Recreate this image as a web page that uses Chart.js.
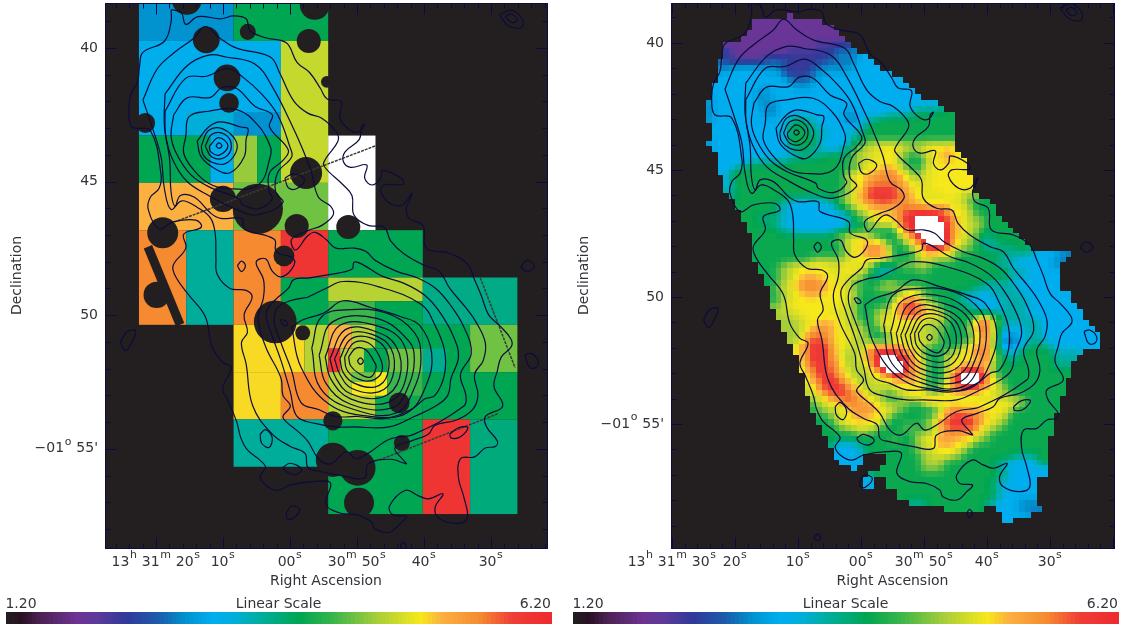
<!DOCTYPE html>
<html>
<head>
<title>Right Ascension / Declination maps</title>
<script src="https://cdn.jsdelivr.net/npm/chart.js"></script>
<style>
  html, body { margin: 0; background: #fff; overflow: hidden; }
  canvas { position: absolute; top: 0; }
  #leftMap { left: 0; }
  #rightMap { left: 565px; }
</style>
</head>
<body>
<canvas id="leftMap" width="562" height="624"></canvas>
<canvas id="rightMap" width="560" height="624"></canvas>
<script>
// contours: [RA seconds after 13h30m, Dec arcmin below -01d]
const contourOuter = [[77.4,38.44],[75.9,38.54],[75.2,38.99],[73.4,38.7],[69.9,38.78],[68.1,38.67],[66.2,38.78],[65.6,39.23],[63.3,39.49],[60.2,39.68],[58.6,40.41],[56.7,40.8],[55.1,41.39],[54.1,41.78],[52,41.88],[52.2,42.5],[50.6,42.96],[49.3,43],[48.5,42.73],[49,42.83],[49.3,43.29],[51.4,43.75],[51.7,44.11],[50.6,44.34],[48.2,44.25],[48.5,44.74],[47.4,45],[46.1,44.74],[45.8,44.45],[43,44.76],[42.8,44.97],[45.6,45],[46.1,45.26],[44.5,45.72],[42.7,45.72],[41.5,45.3],[41.9,45.65],[42.3,45.85],[41.9,46.25],[39.8,46.51],[39.3,47.36],[35.8,47.56],[33.2,47.95],[32.1,48.54],[31.1,49.13],[30,49.86],[28.4,50.25],[26.7,50.75],[26.6,51.04],[28.1,51.43],[28.7,51.95],[29.2,52.54],[27.9,53.27],[30.5,53.66],[30.3,54.05],[28.7,54.58],[29,54.78],[30.5,54.84],[32.1,55.17],[34.2,55.24],[34.5,55.96],[33.7,56.68],[33.2,57.47],[34.8,57.66],[37.4,57.47],[38,57.07],[36.8,56.55],[39,56.74],[40.6,56.61],[42.4,56.42],[44.8,57.01],[44.3,57.34],[42.3,57.4],[43.2,57.66],[44.8,57.99],[47,57.86],[47.5,57.6],[49.6,57.34],[52.2,57.27],[54.3,56.94],[53.6,56.15],[55.9,56.09],[59.6,56.22],[61.5,56.42],[63.3,56.22],[64.1,55.89],[63.3,55.56],[64.1,55.3],[66,54.91],[67,54.45],[67.6,53.86],[68.9,53.07],[69.7,52.61],[68.4,51.82],[69.7,51.63],[71.3,51.04],[72.3,49.92],[74.7,49.13],[76.6,48.48],[77.1,48.02],[75.2,47.36],[75.5,46.84],[72.9,46.58],[73.7,46.31],[77.1,46.38],[79.2,46.64],[80.8,45.92],[80.5,45.46],[79.2,45.13],[78.9,44.6],[80.5,42.96],[83.2,42.83],[83.7,42.24],[83.4,41.59],[82.4,41.13],[82.1,40.54],[81.6,40.04],[78.4,39.62],[77.4,38.9]];
const contourSecond = [[81.6,41.82],[80.3,42.77],[78.9,43.95],[78.4,45.13],[77.4,45.92],[75.8,45.59],[73.4,45.85],[71.5,46.24],[70.8,46.84],[70.7,47.75],[70.5,48.35],[68.6,48.87],[66.2,48.94],[65.3,49.2],[66.5,49.86],[66,50.51],[66.9,50.9],[66.2,51.69],[65.2,53.27],[62.3,54.32],[59.6,54.78],[57.4,55.04],[57,55.56],[55.4,55.7],[51.7,55.89],[48.5,55.96],[48,55.43],[44.6,55.26],[42.3,55.43],[42.7,55.3],[44,54.84],[41.6,54.58],[39,54.32],[38,53.99],[34.8,53.79],[32.4,53.4],[31.6,52.87],[32.1,52.09],[30.8,51.56],[30.5,50.9],[31.9,50.12],[33.4,49.59],[35.8,48.87],[37.4,48.22],[39.5,48.02],[42.7,47.56],[44.6,47.1],[45.6,46.58],[48,46.51],[50.1,46.12],[50.4,45.39],[51.7,45],[54.6,44.28],[54.3,44.01],[52.5,43.36],[52.7,43.03],[54.9,42.5],[57,42.31],[59.1,41.85],[61.2,40.8],[62.6,40.21],[67.6,39.88],[70.2,39.49],[72.3,39.07],[73.9,39.49],[77.1,40.08],[79.5,40.67]];
const contourThird = [[78.3,41.59],[75,40.54],[71.8,40.14],[69.2,40.21],[64.9,40.47],[62.3,41.32],[59.1,42.9],[57.5,43.82],[56.5,44.47],[55.4,45.46],[53.6,45.79],[53.2,46.12],[54.9,46.51],[57,46.71],[59.4,47.03],[58.8,47.43],[57,46.9],[55.9,46.77],[54.3,47.03],[52.8,47.36],[50.1,47.36],[48.3,47.49],[46.9,47.82],[43.8,48.22],[40.6,48.48],[37.9,48.87],[35.8,49.46],[33.7,50.31],[32.6,51.3],[34.2,52.09],[33.4,52.87],[33.7,53.27],[41.1,54.32],[44.8,54.51],[48,55.04],[49.9,55.24],[51.2,54.97],[53.6,55.43],[55.4,55.24],[57,54.58],[58.6,54.19],[60.2,53.86],[60.7,53.66],[59.6,53.27],[60.7,52.87],[61,52.22],[63.3,51.04],[64.4,49.99],[63.6,49.2],[63.6,48.54],[64.7,47.89],[63.3,47.76],[62.3,48.22],[61,48.44],[59.4,48.15],[59.1,47.76],[61.7,47.49],[62,47.03],[66.5,46.64],[66.8,46.25],[70,46.25],[71.5,46.05],[73.9,45.46],[76,45.39],[76.8,45.79],[77.4,45.26],[77.6,44.08],[78.4,42.77]];
const contourFourth = [[57,48.48],[59.1,48.54],[59.9,48.87],[62,49.33],[63.2,49.79],[62.5,50.51],[61,51.56],[59.6,52.74],[58.6,53.66],[55.9,53.92],[52.8,54.05],[50.1,54.05],[44.8,54.05],[41.1,53.66],[37.9,53.27],[36.1,52.87],[35.6,52.22],[34.5,51.43],[35.3,50.64],[37.4,49.72],[39.5,49.13],[42.7,48.67],[45.9,48.41],[49,47.95],[50.1,47.89],[50.4,48.15],[53.8,48.35]];
const contourFifth = [[57,49.2],[54.3,48.87],[51.7,48.61],[46.4,48.81],[40.1,49.46],[38,50.25],[36.6,51.17],[36.6,52.09],[38,52.87],[39.5,53],[41.6,53.4],[45.4,53.73],[49.6,53.66],[52.8,53.66],[55.4,53.4],[58,53.14],[59.4,51.95],[61,50.9],[62,50.12],[61.5,49.59],[59.6,49.33]];
// rings round the northern peak
const northRings = [
  [[78.3,42.24],[75.2,41],[72.1,40.93],[68.9,40.64],[66.5,41],[63.9,41.59],[61.5,42.37],[59.7,43.55],[59.4,43.95],[61.5,44.54],[61.8,45.26],[60.7,45.65],[64.4,46.11],[67.6,45.92],[71.8,45.39],[75,44.87],[77.1,44.08],[78.2,43.16]],
  [[77,42.37],[75,41.74],[71.5,41.72],[69.8,41.35],[67.6,41.39],[64.9,42.05],[62.3,42.37],[62.7,42.83],[59.9,43.69],[60.7,44.08],[62.7,44.54],[62.8,45.2],[62.3,45.52],[64.4,45.89],[66.8,45.72],[67.2,45.52],[71.8,45.06],[74.5,44.6],[76.6,43.82],[77.4,43.16]],
  [[75.2,43.16],[74.7,42.44],[71.8,42.24],[67.6,42.18],[64.4,42.77],[62.6,43.55],[62.6,43.95],[64.4,45],[69.2,45.13],[71.8,44.93],[73.9,44.47],[75.5,43.82]],
  [[73.5,43.36],[71.8,42.83],[70,42.64],[67,42.83],[65.9,42.9],[66.2,43.29],[66.5,43.95],[68.6,44.54],[70.7,44.41],[72.9,43.95]],
  [[72.9,43.55],[71.8,42.96],[69.7,42.9],[67.7,43.36],[67.8,43.82],[69.4,44.21],[71.3,44.15],[72.6,43.88]],
  [[72.3,43.55],[71.3,43.1],[69.4,43.1],[68.4,43.53],[69.4,43.97],[71.3,43.95]],
  [[71.7,43.55],[70.3,43.23],[68.9,43.53],[70.2,43.88],[71.5,43.75]],
  [[70.7,43.53],[70.3,43.42],[69.8,43.53],[70.3,43.63]]
];
// rings round the southern peak
const southRings = [
  [[49.6,51.59],[49.16,51.47],[48.7,51.59],[49.16,51.71]],
  [[50.9,51.43],[49.8,51.1],[48.3,51.17],[47.2,51.56],[46.8,51.82],[47.7,52.19],[49.3,52.06],[50.6,51.76]],
  [[51.5,51.43],[50.1,50.9],[48,50.9],[46.4,51.36],[45.9,51.95],[47.5,52.32],[49.8,52.22],[51.2,51.89]],
  [[52.2,51.5],[50.6,50.77],[47.7,50.71],[45.3,51.17],[45.1,52.09],[46.9,52.55],[50.1,52.41],[51.7,52.02]],
  [[53,51.5],[50.9,50.58],[47.5,50.58],[44.6,51.1],[44.3,52.15],[46.4,52.74],[50.4,52.61],[52.2,52.09]],
  [[53.7,51.5],[51.4,50.41],[47.2,50.45],[43.8,51.04],[43.3,52.22],[45.9,52.94],[50.6,52.81],[52.8,52.22]],
  [[54.4,51.43],[52.2,50.25],[46.9,50.25],[42.8,50.9],[42.4,52.28],[45.1,53.14],[50.6,53],[53.5,52.28]],
  [[55.3,51.36],[53.3,50.12],[46.7,49.99],[41.9,50.84],[41.1,51.56],[41.9,52.48],[44.3,53.33],[50.6,53.2],[54.3,52.41]],
  [[56.4,51.1],[54.9,49.92],[50.6,49.66],[45.3,49.79],[41.1,50.51],[40.1,51.43],[40.9,52.48],[43.8,53.53],[50.1,53.4],[55.1,52.61]],
  [[59.4,50.32],[57.8,50.05],[54.6,49.79],[51.7,49.33],[47.5,49.59],[43.2,49.92],[40.3,50.25],[38.5,51.3],[39.3,52.48],[42.2,53.53],[47.5,53.66],[53.8,53.2],[58,51.82]]
];
// small closed islands
const islands = [
  [[60.4,44.74],[59.1,44.58],[57.5,44.8],[58.6,45.13],[59.9,45.1]],
  [[67.5,48.02],[66.9,47.85],[66.3,48.02],[66.9,48.24]],
  [[61.1,50.05],[60.6,50.04],[60,50.22],[60.6,50.25]],
  [[64.1,54.32],[63.3,54.15],[62.3,54.45],[62.8,54.82],[63.9,54.65]],
  [[60.7,55.56],[59.6,55.41],[57.9,55.63],[58.8,55.83],[60.2,55.73]],
  [[35.8,54.32],[34.5,54.08],[33.1,54.08],[34.2,54.42],[35.6,54.47]],
  [[43.2,58.52],[42.8,58.36],[42.3,58.52],[42.8,58.69]],
  [[67.5,59.46],[66.9,59.33],[66.4,59.46],[66.9,59.6]],
  [[60.2,57.27],[59.4,57.01],[58.2,57.14],[59.2,57.47],[60.1,57.47]],
  [[25.2,48.06],[24.3,47.82],[23.2,48.02],[24.2,48.25]],
  [[24.6,51.36],[23.7,51.3],[22.6,51.56],[22.9,51.82],[23.9,51.82]],
  [[28.4,38.63],[26.6,38.46],[24.9,38.83],[25.2,39.12],[27.1,39.03]],
  [[27.5,38.7],[26.6,38.6],[25.7,38.83],[26.6,38.92]],
  [[85,50.9],[84,50.5],[82.7,50.45],[83.2,50.85],[84.2,51.2]]
];

// left map: fitted tiles, ra from, ra to, dec from, dec to, value
const tiles = [
  [82.54,68.42,38.2,39.74,2.85],[68.42,54.3,38.2,39.74,3.9],[82.54,61.36,39.74,43.28,3.13],[61.36,54.3,39.74,45.05,4.75],
  [75.48,68.42,42.4,43.28,3.3],[68.42,61.36,42.4,43.28,2.85],[82.54,71.9,43.28,45.05,3.9],[71.9,68.42,43.28,45.05,3.13],
  [68.42,64.9,43.28,45.05,4.55],[64.9,61.36,43.28,45.05,3.9],[82.54,68.42,45.05,46.82,5.2],[68.42,54.3,45.05,46.82,4.4],
  [54.3,47.24,43.28,46.82,6.5],[82.54,75.48,46.82,50.36,5.55],[75.48,68.42,46.82,50.36,3.55],[68.42,61.36,46.82,50.36,5.55],
  [61.36,54.3,46.82,48.59,6],[54.3,40.18,46.82,48.59,3.9],[61.36,54.3,48.59,50.36,3.9],[54.3,40.18,48.59,49.48,4.68],
  [54.3,47.24,49.48,50.36,4.2],[47.24,40.18,49.48,50.36,3.9],[40.18,26.06,48.59,50.36,3.65],
  [68.42,57.83,50.36,52.13,5.05],[57.83,54.3,50.36,52.13,4.68],[54.3,50.77,50.36,51.25,5.2],[50.77,47.24,50.36,51.25,4.68],
  [47.24,40.18,50.36,51.25,3.9],[40.18,33.12,50.36,52.13,3.9],[33.12,26.06,50.36,52.13,4.4],
  [54.3,52.5,51.25,52.13,6],[52.5,48.96,51.25,52.13,4.68],[48.96,45.47,51.25,52.13,3.9],[45.47,40.18,51.25,52.13,4.4],
  [40.18,36.65,51.25,52.13,3.6],
  [68.42,61.36,52.13,53.9,5.05],[61.36,54.3,52.13,53.9,5.55],[54.3,50.77,52.13,53.02,4.68],[50.77,47.24,52.13,52.5,4.4],
  [50.77,47.24,52.5,53.02,5],[47.24,45.47,52.13,53.02,5],[45.47,40.18,52.13,53.02,4.2],[54.3,47.24,53.02,53.9,4.68],
  [47.24,40.18,53.02,53.9,3.95],[40.18,26.06,52.13,53.9,3.9],
  [68.42,54.3,53.9,55.67,3.55],[54.3,40.18,53.9,57.44,3.9],[40.18,33.12,53.9,57.44,6],[33.12,26.06,53.9,57.44,3.7]
];
// left map: masked stars
const maskRa = [72.5,69.4,69.1,66.3,57.2,56.3,75.4,81.6,57.6,54.5,70,64.8,59,51.3,79,60.9,79.9,62.2,58.1,43.7,53.6,43.3,53.6,49.9,49.7];
const maskDec = [39.7,41.12,42.06,39.4,39.74,38.39,38.2,42.81,44.68,41.27,45.65,46.02,46.66,46.7,46.92,47.78,49.24,50.25,50.66,53.28,53.95,54.78,55.41,55.71,57.02];
const maskRadius = [0.5,0.5,0.37,0.3,0.45,0.56,0.56,0.37,0.6,0.22,0.49,0.94,0.45,0.45,0.58,0.39,0.49,0.8,0.28,0.39,0.36,0.3,0.64,0.67,0.56];
const blankBand = [[81.2,47.44],[76.4,50.36]];
const trails = [
  [[47.3,43.67],[68.5,45.69],[77.2,46.51]],
  [[31.6,48.6],[26.4,51.97]],
  [[29,53.69],[46.6,55.41]]
];
// contours were read on the right map, the left one sits slightly off it
const leftShiftRa = 0.35;
const leftShiftDec = 0.13;

// right map: cells, one string per row, letter + column where the run ends
const heatCodes = ['p','i','d','b','t','g','l','y','Y','o','O','r','w'];
const heatValues = [1.9,2.25,2.75,3.1,3.5,3.95,4.6,4.85,5.0,5.2,5.55,5.95,6.8];
const heatStartRa = 84.6, heatStartDec = 38.82, heatStepRa = 0.9206, heatStepDec = 0.2283;
const heatRows = [
".14p15",".8p20",".8p22",".7p23",".6p24",".3p19i25",".3i5p14i22d26",".3d4p10i22d26b28",".2d3i10d14i20d26b29",".2d4b10d13i18d25b30",
".2b13d14i18d20b32",".2b14d19b34",".1b15d18b35",".1b9d11b36",".1b9d10b37","d1b9d12b40","d1b10d12b35t41","d1b10d12b24d26b31t36g43","d1b14t15g17t19b24d26b27t29g43",".1b13t15g18t20b25d26t28g43",
".1b14g18t21b24t27g43",".1b14g19t21b25t26g43","d1b14g19t20b24t25g27l29y34l38y43",".1b14t15g18t20b23t25g26l28y30Y34l36y38Y41o42Y43",".2b16t20g25l27y30Y33l35g37y39Y41O42Y44",".2b8t14g25l27y29Y33l34g38y39Y41o42Y45",".2b5t6g26l27y29Y32o33l35g37y39Y45",".2b4g24l25y26Y28o30O33Y35l36g37y39Y45",".3b4g24y26Y27o29O33o34Y35l36y39Y46",".3b4t5g24l25y26Y27o28O34o35Y36y38Y46",
".3t5g24l25y26Y27O28r33O34o35Y37y39Y46",".4t5g23l25y26o27O28r33O35o36Y39y41Y44l47",".5g13t15b20t22g24y26o27O29r32O35Y37y39Y41y45g49",".5g12t14b22g24l26y27Y29o33O38o42Y44y46g50",".6g12t14b24t25g26y28Y29o33O34r41O42Y44y46g50",".6g9t11g12t14b24t25g28y30Y33O34r36w40r42O43Y45l48g51",".7g11t13b24t26g27l29y32Y33O34r36w40r42O43Y45y46l48g52",".7g13t15b22t24g33Y34O35r36w41r42O43Y45l47g53",".8g22l24y26Y28l29g33y34o36r38w41r42O43Y45l47g48t49g54",".8g24y25Y27o30y31g34y35o36O37r38w41r42O43Y44l46g47t50g55",
".8g23l25Y27o28O31Y32g35l36Y37O38r41O42Y44l46g48t53g56",".8g24y25Y27o28O30Y32g36y37Y40y43g52t57b61d63",".8g18l24y26Y31y32g36l37y39l43g50t54b60d62",".9g13l15Y21y24Y26y29g30t32g33l36y37l39g50t53b60d61",".9g12l14y16Y21y23Y25y28g29t33g37l38g52t56b61",".10g13l15Y17o19Y22y24Y25y27g29t31g52t55b61",".10g12l14Y16O20o21Y23y25g30l33g48t53b61",".11g12l14Y16O20o21Y24y25l27g29l34y36l38g46t54b61",".11g12l14y16Y17o20Y24y26g33l35Y36y37g44t47b49t55b63",".11g13y15Y20y21Y24l26g32y33Y34O36o37Y38l39g43t45b50t56b63",
".11l14Y24y26g31l32Y33O34r36O37Y39y40g45t47b51t56b64",".12l13y16Y21y24l26g29y33O34r37O38Y40y41g46t49b50t55b65",".12l15y17Y23y26g29l31Y34o36Y38y41l42g46Y47o49y50g51t57b65",".13l16y18Y20o22Y24l27g29y32Y35y38l41g46Y47O49y50g51t58b66",".13l16y17Y18o19O21o22Y24y26l28g30y31Y33y38l41g45y46O49y50g51t52b55t58b67",".14l16y17o18O21o22Y24y26l28g31l32Y34y37l40g46y47O49Y50t51d53b55t58b68",".14l16y17O18r20O21o22Y24y26l29g32Y33y39l41g45y47o49y50t51d54b55t59b68",".15y16O18r21O22Y24y26l28o29O33Y35y37l39g44Y47O49y50t51d54t56g58t60b68",".15Y17O18r21O22Y24l26y27O29r34O35Y37g41l43Y46O49y50g51t54g60t65",".16Y17O18r21O22Y24l26y28O29r30w33r35O36Y38g41y44Y47O49Y50g52t54g60t64",
".16Y17O18r21O23Y24l26y28O29r30w34r35O36Y38g41y44Y47o49l50g60t63",".16y17Y18O19r21O23Y25l27y29O30r31w34r35O36Y38g41y43O44r48Y49l50g63",".17Y18O19r22O23Y25l28y31O32r34O36Y38g41Y42O43r44w47r48O49y50g63",".17y18Y19O20r23O24Y26l28y32Y34o36Y38g41Y42O43r44w47r48O49Y50y51g62",".17y18Y19O20r24O25Y27l29y33Y37y38g40y42O44r47O48Y50l52g62",".17l18y19Y20O21r24O26Y28l31g32y35Y38l39g40y41Y43o46Y50l52g62",".18l19y20Y22O24r25O27Y29l31g34y36Y38O40Y42y53l55g61",".18g19l20y22Y24O26o28O29Y31y33l35g37l38y40Y46o47Y53y54l55g61",".18g19l21y24Y25O29Y30y32l34g40y41Y42O44o47Y51y53g61",".19g21l23y25Y26o28Y31y32g39l40Y41O42r46O48Y50y52g60",
".19g22y23Y25o27Y30y31g37l38y39Y40O41r46O47o48Y50l52g60",".20g23l25y28Y29y30g34l36g39y40Y41O42r46O47Y49l51g60",".20g26l28g36l38y40Y41O43o46Y47l49g60",".21g32l33g36y38Y40O41o45Y47l49g59",".21g22b26t28g36l38y39Y40o43Y44y46g59",".22b26t27g36l38y40Y43y44l45g59",".22b27.31g37l39y42l44g53t57g59",".23b27.31g37l41g50t52b57g59",".25b26.30g37l41g50t52b59",".28g51t53b59",
".27b29.31g50t52b57",".27b29.31g49t51b57",".33g50t51b57",".33g50t51b57",".35t38g48t50b54d57",".41g48.50b54d58",".51b56",".51b53"
];

// colour table of the scale bar
const scaleMin = 1.2, scaleMax = 6.2;
const cmapStops = [0,.03,.06,.13,.17,.22,.28,.33,.38,.42,.47,.54,.6,.68,.76,.8,.87,.93,1];
const cmapColors = ['#231f20','#2a0f22','#4a2050','#6d3394','#5b3a9b','#30399a','#1c5cab','#0093d0','#00aeef','#00afd8','#00ad9a','#00a651','#39b54a','#a6ce39','#f7e81b','#fbb040','#f58a30','#ef3e36','#ee2a2f'];

// axes
const leftRaTicks = [80,70,60,50,40,30];
const leftRaLabels = [[['13','h'],[' 31','m'],[' 20','s']],[['10','s']],[['00','s']],[['30','m'],[' 50','s']],[['40','s']],[['30','s']]];
const rightRaTicks = [90,80,70,60,50,40,30];
const rightRaLabels = [[['13','h'],[' 31','m'],[' 30','s']],[['20','s']],[['10','s']],[['00','s']],[['30','m'],[' 50','s']],[['40','s']],[['30','s']]];
const decTicks = [40,45,50,55];
const decLabels = [[['40','']],[['45','']],[['50','']],[['\u221201','o'],[' 55\'','']]];

const BG = '#231f20', INK = '#0b0b40', TEXT = '#33333a';
const FONT = '"DejaVu Sans"';

function valueColor(v) {
  if (v > scaleMax) return '#ffffff';
  const t = (v - scaleMin) / (scaleMax - scaleMin);
  let i = 0;
  while (i < cmapStops.length - 2 && t > cmapStops[i + 1]) i++;
  const f = Math.max(0, Math.min(1, (t - cmapStops[i]) / (cmapStops[i + 1] - cmapStops[i])));
  const a = cmapColors[i], b = cmapColors[i + 1];
  const mix = k => {
    const p = parseInt(a.substr(k, 2), 16), q = parseInt(b.substr(k, 2), 16);
    return Math.round(p + (q - p) * f);
  };
  return `rgb(${mix(1)},${mix(3)},${mix(5)})`;
}

function drawRuns(ctx, runs, x, y, align) {
  ctx.textBaseline = 'middle';
  ctx.textAlign = 'left';
  let width = 0;
  runs.forEach(r => {
    ctx.font = `14px ${FONT}`;
    width += ctx.measureText(r[0]).width;
    ctx.font = `11px ${FONT}`;
    if (r[1]) width += ctx.measureText(r[1]).width + 1;
  });
  let cx = align === 'right' ? x - width : x - width / 2;
  ctx.fillStyle = TEXT;
  runs.forEach(r => {
    ctx.font = `14px ${FONT}`;
    ctx.fillText(r[0], cx, y);
    cx += ctx.measureText(r[0]).width;
    if (r[1]) {
      ctx.font = `11px ${FONT}`;
      ctx.fillText(r[1], cx + 0.5, y - 7);
      cx += ctx.measureText(r[1]).width + 1;
    }
  });
}

function paintTiles(chart) {
  const { ctx, scales: { x, y } } = chart;
  tiles.forEach(t => {
    const x0 = x.getPixelForValue(t[0]), x1 = x.getPixelForValue(t[1]);
    const y0 = y.getPixelForValue(t[2]), y1 = y.getPixelForValue(t[3]);
    ctx.fillStyle = valueColor(t[4]);
    ctx.fillRect(x0, y0, x1 - x0, y1 - y0);
  });
}

// unpack the runs into a grid of values, null where the map has no data
function heatGrid() {
  return heatRows.map(row => {
    const cells = [];
    for (const m of row.matchAll(/([a-zA-Z.])(\d+)/g)) {
      const v = m[1] === '.' ? null : heatValues[heatCodes.indexOf(m[1])];
      while (cells.length < +m[2]) cells.push(v);
    }
    return cells;
  });
}

// the source map is a beam-smoothed image, so each cell is shown blended with its neighbours
function softCell(grid, j, i) {
  let sum = 0, w = 0;
  for (let dj = -1; dj <= 1; dj++) {
    for (let di = -1; di <= 1; di++) {
      const row = grid[j + dj];
      const v = row ? row[i + di] : null;
      if (v === null || v === undefined) continue;
      const k = (dj ? 1 : 2) * (di ? 1 : 2);
      sum += v * k;
      w += k;
    }
  }
  return sum / w;
}

function paintHeat(chart) {
  const { ctx, scales: { x, y } } = chart;
  const grid = heatGrid();
  grid.forEach((row, j) => {
    const y0 = Math.round(y.getPixelForValue(heatStartDec + j * heatStepDec));
    const y1 = Math.round(y.getPixelForValue(heatStartDec + (j + 1) * heatStepDec));
    row.forEach((v, i) => {
      if (v === null) return;
      const x0 = Math.round(x.getPixelForValue(heatStartRa - i * heatStepRa));
      const x1 = Math.round(x.getPixelForValue(heatStartRa - (i + 1) * heatStepRa));
      ctx.fillStyle = valueColor(softCell(grid, j, i));
      ctx.fillRect(x0, y0, x1 - x0, y1 - y0);
    });
  });
}

function closed(points, dRa, dDec) {
  const pts = points.map(p => ({ x: p[0] + dRa, y: p[1] + dDec }));
  pts.push(pts[0]);
  return pts;
}

function contourDatasets(dRa, dDec) {
  const all = [contourOuter, contourSecond, contourThird, contourFourth, contourFifth, ...northRings, ...southRings, ...islands];
  return all.map(c => ({
    type: 'scatter',
    data: closed(c, dRa, dDec),
    showLine: true,
    tension: 0.4,
    borderColor: '#0c0c3c',
    borderWidth: 1.2,
    pointRadius: 0
  }));
}

function maskDatasets() {
  const sets = [];
  trails.forEach(t => sets.push({
    data: t.map(p => ({ x: p[0], y: p[1] })),
    showLine: true,
    borderColor: '#3a3a3a',
    borderWidth: 1.5,
    borderDash: [3, 1],
    pointRadius: 0
  }));
  sets.push({
    data: maskRa.map((ra, i) => ({ x: ra, y: maskDec[i] })),
    backgroundColor: BG,
    borderWidth: 0,
    pointRadius: c => maskRadius[c.dataIndex] * Math.abs(c.chart.scales.y.getPixelForValue(1) - c.chart.scales.y.getPixelForValue(0))
  });
  sets.push({
    data: blankBand.map(p => ({ x: p[0], y: p[1] })),
    showLine: true,
    borderColor: BG,
    borderWidth: 9,
    pointRadius: 0
  });
  return sets;
}

function makeMap(id, cfg) {
  const framePlugin = {
    id: 'frame',
    beforeDatasetsDraw(chart) {
      const { ctx, chartArea: a } = chart;
      ctx.save();
      ctx.fillStyle = BG;
      ctx.fillRect(a.left, a.top, a.right - a.left, a.bottom - a.top);
      ctx.beginPath();
      ctx.rect(a.left, a.top, a.right - a.left, a.bottom - a.top);
      ctx.clip();
      cfg.paint(chart);
      ctx.restore();
    },
    afterDatasetsDraw(chart) {
      const { ctx, chartArea: a, scales: { x, y } } = chart;
      ctx.save();
      ctx.strokeStyle = INK;
      ctx.lineWidth = 1;
      const line = (x0, y0, x1, y1) => {
        ctx.beginPath();
        ctx.moveTo(Math.round(x0) + 0.5, Math.round(y0) + 0.5);
        ctx.lineTo(Math.round(x1) + 0.5, Math.round(y1) + 0.5);
        ctx.stroke();
      };
      for (let s = 90; s >= 20; s -= 2) {
        const px = x.getPixelForValue(s);
        if (px < a.left || px > a.right) continue;
        const len = s % 10 === 0 ? 11 : 5;
        line(px, a.bottom, px, a.bottom - len);
        line(px, a.top, px, a.top + len);
      }
      for (let d = 39; d <= 59; d++) {
        const py = y.getPixelForValue(d);
        if (py < a.top || py > a.bottom) continue;
        const len = d % 5 === 0 ? 11 : 5;
        line(a.left, py, a.left + len, py);
        line(a.right, py, a.right - len, py);
      }
      ctx.strokeRect(Math.round(a.left) + 0.5, Math.round(a.top) + 0.5, Math.round(a.right - a.left), Math.round(a.bottom - a.top));

      cfg.raTicks.forEach((s, i) => drawRuns(ctx, cfg.raLabels[i], x.getPixelForValue(s), 562, 'center'));
      decTicks.forEach((d, i) => drawRuns(ctx, decLabels[i], a.left - 7, y.getPixelForValue(d), 'right'));

      const midX = (a.left + a.right) / 2;
      drawRuns(ctx, [['Right Ascension', '']], midX, 581, 'center');
      ctx.save();
      ctx.translate(cfg.decTitleX, (a.top + a.bottom) / 2);
      ctx.rotate(-Math.PI / 2);
      drawRuns(ctx, [['Declination', '']], 0, 0, 'center');
      ctx.restore();

      // scale bar
      const n = 128, bw = cfg.barRight - cfg.barLeft;
      for (let i = 0; i < n; i++) {
        ctx.fillStyle = valueColor(scaleMin + (scaleMax - scaleMin) * (i + 0.5) / n);
        ctx.fillRect(cfg.barLeft + bw * i / n, 612, bw / n + 1, 12);
      }
      drawRuns(ctx, [['1.20', '']], cfg.barLeft + 15, 604, 'center');
      drawRuns(ctx, [['Linear Scale', '']], (cfg.barLeft + cfg.barRight) / 2, 604, 'center');
      drawRuns(ctx, [['6.20', '']], cfg.barRight, 604, 'right');
      ctx.restore();
    }
  };

  return new Chart(document.getElementById(id), {
    type: 'scatter',
    data: { datasets: cfg.datasets },
    plugins: [framePlugin],
    options: {
      responsive: false,
      animation: false,
      layout: { padding: cfg.padding },
      plugins: { legend: { display: false }, tooltip: { enabled: false } },
      scales: {
        x: { type: 'linear', reverse: true, min: cfg.raRange[1], max: cfg.raRange[0], display: false },
        y: { type: 'linear', reverse: true, min: cfg.decRange[0], max: cfg.decRange[1], display: false }
      }
    }
  });
}

makeMap('leftMap', {
  padding: { left: 105, right: 15, top: 3, bottom: 76 },
  raRange: [87.61, 21.64],
  decRange: [38.32, 58.71],
  raTicks: leftRaTicks,
  raLabels: leftRaLabels,
  decTitleX: 17,
  barLeft: 6,
  barRight: 551,
  paint: paintTiles,
  datasets: [...contourDatasets(leftShiftRa, leftShiftDec), ...maskDatasets()]
});

makeMap('rightMap', {
  padding: { left: 106, right: 11, top: 3, bottom: 76 },
  raRange: [90.16, 19.84],
  decRange: [38.43, 59.88],
  raTicks: rightRaTicks,
  raLabels: rightRaLabels,
  decTitleX: 19,
  barLeft: 8,
  barRight: 553,
  paint: paintHeat,
  datasets: contourDatasets(0, 0)
});
</script>
</body>
</html>
